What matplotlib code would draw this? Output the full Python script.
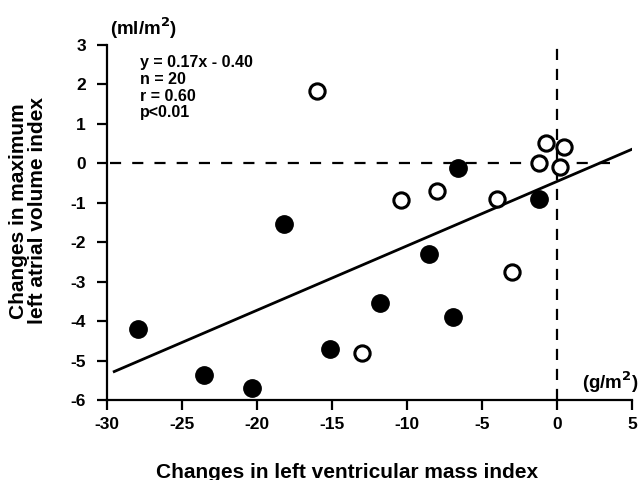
import numpy as np
import matplotlib.pyplot as plt

plt.rcParams['font.family'] = ['Liberation Sans', 'DejaVu Sans']
plt.rcParams['font.weight'] = 'bold'
plt.rcParams['axes.unicode_minus'] = False

# open circles
open_x = [-16.0, -10.4, -8.0, -4.0, -0.7, 0.5, -1.2, 0.2, -13.0, -3.0]
open_y = [1.83, -0.94, -0.70, -0.92, 0.51, 0.41, 0.01, -0.09, -4.82, -2.75]

# filled circles
fill_x = [-6.6, -1.2, -18.2, -27.9, -23.5, -20.3, -15.1, -8.5, -11.8, -6.9]
fill_y = [-0.13, -0.92, -1.54, -4.21, -5.37, -5.70, -4.72, -2.30, -3.55, -3.91]

# regression line as drawn
fit_x = [-29.5, 5.3]
fit_y = [-5.28, 0.40]

xticks = [-30, -25, -20, -15, -10, -5, 0, 5]
yticks = [3, 2, 1, 0, -1, -2, -3, -4, -5, -6]

fig = plt.figure(figsize=(6.41, 4.80), dpi=100)
ax = fig.add_axes([0.1665, 0.1667, 0.8195, 0.7403])

ax.plot([-29.8, 3.6], [0, 0], color='black', lw=1.6, dashes=(5, 5))
ax.plot([0, 0], [-6, 2.95], color='black', lw=1.6, dashes=(5, 4))
ax.plot(fit_x, fit_y, color='black', lw=2.0)

ax.plot(fill_x, fill_y, 'o', ms=12.5, color='black', mec='black')
ax.plot(open_x, open_y, 'o', ms=11, mfc='white', mec='black', mew=2.2)

ax.set_xlim(-30, 5)
ax.set_ylim(-6, 3)
ax.set_xticks(xticks)
ax.set_yticks(yticks)
ax.tick_params(direction='out', length=7, width=1.6, labelsize=12.5)
ax.tick_params(axis='y', pad=8)
ax.tick_params(axis='x', pad=5)
for lab in ax.get_xticklabels() + ax.get_yticklabels():
    lab.set_fontweight('bold')
for s in ['top', 'right']:
    ax.spines[s].set_visible(False)
for s in ['left', 'bottom']:
    ax.spines[s].set_linewidth(1.6)

ax.text(-27.8, 2.74, 'y = 0.17x - 0.40\nn = 20\nr = 0.60\np<0.01',
        fontsize=11.5, fontweight='bold', va='top', ha='left', linespacing=1.15)

fig.text(144 / 641, 1 - 28 / 480, '(ml/m$^2$)', fontsize=13.5, fontweight='bold',
         ha='center', va='center')
fig.text(639 / 641, 1 - 382 / 480, '(g/m$^2$)', fontsize=13.5, fontweight='bold',
         ha='right', va='center')

fig.text(347 / 641, 2.5 / 480, 'Changes in left ventricular mass index',
         fontsize=15, fontweight='bold', ha='center', va='baseline')
fig.text(28 / 641, 1 - 211 / 480, 'Changes in maximum\nleft atrial volume index',
         fontsize=15, fontweight='bold', ha='center', va='center', rotation=90,
         linespacing=0.95)

fig.savefig('out.png', dpi=100)
